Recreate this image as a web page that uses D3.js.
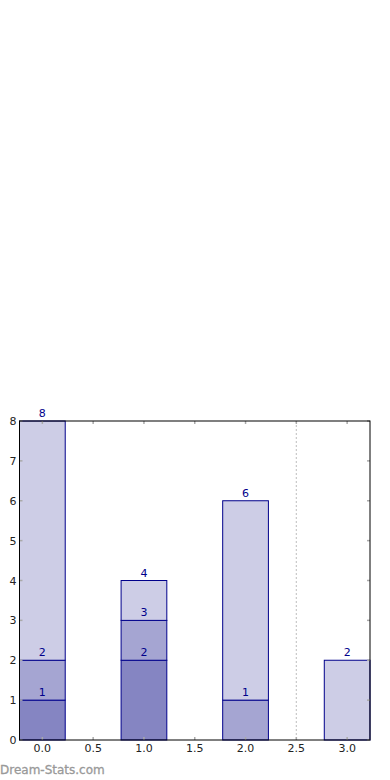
<!DOCTYPE html>
<html>
<head>
<meta charset="utf-8">
<script src="https://cdn.jsdelivr.net/npm/d3@7"></script>
<style>
body { margin: 0; background: #fff; }
svg text { font-family: "DejaVu Sans", sans-serif; }
</style>
</head>
<body>
<script>
// data
var positions = [0, 1, 2, 3];
var darkVals = [1, 2, 0, 0];
var midVals = [1, 1, 1, 0];
var lightVals = [6, 1, 5, 2];
var xTicks = [0.0, 0.5, 1.0, 1.5, 2.0, 2.5, 3.0];
var yTicks = [0, 1, 2, 3, 4, 5, 6, 7, 8];
var seriesColors = ['#8585c2', '#a5a5d2', '#cdcde6'];

var svg = d3.select('body').append('svg')
	.attr('width', 390)
	.attr('height', 780);

var plotL = 19.5, plotR = 370, plotT = 421, plotB = 740;

var x = d3.scaleLinear().domain([-0.225, 3.225]).range([plotL, plotR]);
var y = d3.scaleLinear().domain([0, 8]).range([plotB, plotT]);
var barW = 0.45;

// dotted line at 2.5
svg.append('line')
	.attr('x1', x(2.5)).attr('x2', x(2.5))
	.attr('y1', plotT).attr('y2', plotB)
	.attr('stroke', '#c8c8c8')
	.attr('stroke-width', 1.2)
	.attr('stroke-dasharray', '2,2');

// stacked bars
var stacks = [darkVals, midVals, lightVals];
var labels = [];
positions.forEach(function(p, i) {
	var base = 0;
	stacks.forEach(function(s, k) {
		var v = s[i];
		if (v > 0) {
			svg.append('rect')
				.attr('x', x(p - barW / 2))
				.attr('y', y(base + v))
				.attr('width', x(p + barW / 2) - x(p - barW / 2))
				.attr('height', y(base) - y(base + v))
				.attr('fill', seriesColors[k])
				.attr('stroke', '#00008b')
				.attr('stroke-width', 1);
			base += v;
			labels.push({ p: p, v: base });
		}
	});
});

// value labels on top
labels.forEach(function(d) {
	svg.append('text')
		.attr('x', x(d.p))
		.attr('y', y(d.v) - 4)
		.attr('text-anchor', 'middle')
		.attr('font-size', 11)
		.attr('fill', '#00008b')
		.text(d.v);
});

// ticks (inside)
xTicks.forEach(function(t) {
	svg.append('line').attr('x1', x(t)).attr('x2', x(t)).attr('y1', plotB).attr('y2', plotB - 3)
		.attr('stroke', '#aaa').attr('stroke-width', 1.5);
	svg.append('line').attr('x1', x(t)).attr('x2', x(t)).attr('y1', plotT).attr('y2', plotT + 3)
		.attr('stroke', '#aaa').attr('stroke-width', 1.5);
	svg.append('text')
		.attr('x', x(t)).attr('y', plotB + 12)
		.attr('text-anchor', 'middle')
		.attr('font-size', 11)
		.attr('fill', '#222')
		.text(d3.format('.1f')(t));
});
yTicks.forEach(function(t) {
	svg.append('line').attr('x1', plotL).attr('x2', plotL + 3).attr('y1', y(t)).attr('y2', y(t))
		.attr('stroke', '#aaa').attr('stroke-width', 1.5);
	svg.append('line').attr('x1', plotR).attr('x2', plotR - 3).attr('y1', y(t)).attr('y2', y(t))
		.attr('stroke', '#aaa').attr('stroke-width', 1.5);
	svg.append('text')
		.attr('x', plotL - 3).attr('y', y(t) + 4)
		.attr('text-anchor', 'end')
		.attr('font-size', 11)
		.attr('fill', '#222')
		.text(t);
});

// frame
svg.append('rect')
	.attr('x', plotL).attr('y', plotT)
	.attr('width', plotR - plotL).attr('height', plotB - plotT)
	.attr('fill', 'none')
	.attr('stroke', '#000')
	.attr('stroke-width', 1);

// watermark
svg.append('text')
	.attr('x', 0).attr('y', 774)
	.attr('font-size', 12)
	.attr('fill', '#999')
	.attr('stroke', '#999')
	.attr('stroke-width', 0.3)
	.text('Dream-Stats.com');
</script>
</body>
</html>
